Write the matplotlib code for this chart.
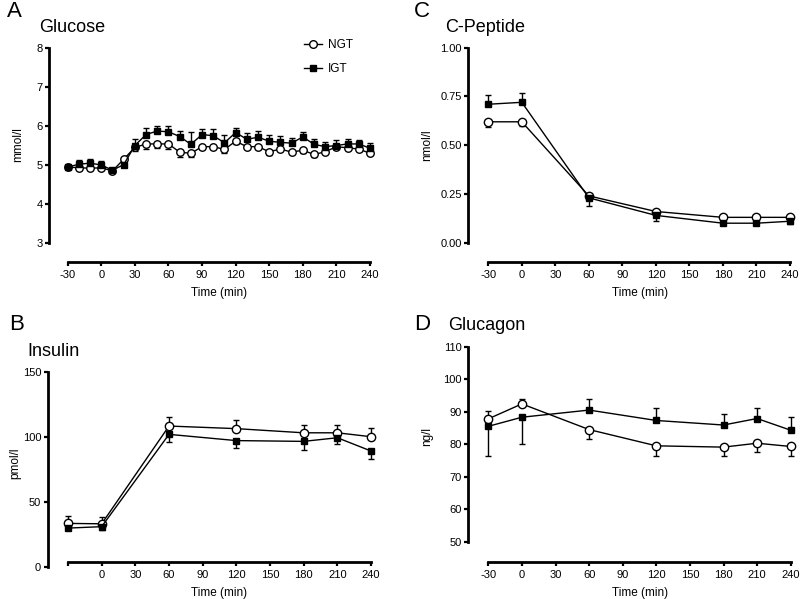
import matplotlib
matplotlib.use("Agg")
import matplotlib.pyplot as plt
from matplotlib.lines import Line2D

plt.rcParams['font.family'] = ['Liberation Sans', 'DejaVu Sans']

# ---------------- data ----------------
glu_t = [-30, -20, -10, 0, 10, 20, 30, 40, 50, 60, 70, 80, 90, 100, 110, 120,
         130, 140, 150, 160, 170, 180, 190, 200, 210, 220, 230, 240]
glu_ngt = [4.95, 4.93, 4.92, 4.93, 4.85, 5.15, 5.45, 5.54, 5.54, 5.54, 5.33, 5.30,
           5.47, 5.47, 5.40, 5.61, 5.47, 5.47, 5.34, 5.41, 5.33, 5.38, 5.27, 5.34,
           5.47, 5.44, 5.41, 5.30]
glu_ngt_lo = [0.03, 0.05, 0.05, 0.05, 0.03, 0.05, 0.09, 0.12, 0.10, 0.12, 0.13, 0.10,
              0.06, 0.06, 0.10, 0.06, 0.06, 0.06, 0.09, 0.06, 0.06, 0.06, 0.07, 0.06,
              0.06, 0.05, 0.05, 0.05]
glu_igt = [4.95, 5.02, 5.05, 5.00, 4.87, 5.01, 5.50, 5.78, 5.87, 5.85, 5.73, 5.53,
           5.78, 5.75, 5.57, 5.83, 5.66, 5.71, 5.61, 5.58, 5.56, 5.72, 5.53, 5.47,
           5.50, 5.54, 5.54, 5.43]
glu_igt_hi = [0.03, 0.11, 0.10, 0.10, 0.03, 0.05, 0.16, 0.18, 0.14, 0.15, 0.15, 0.32,
              0.14, 0.17, 0.20, 0.13, 0.17, 0.16, 0.15, 0.17, 0.14, 0.12, 0.13, 0.13,
              0.13, 0.12, 0.10, 0.14]

t7 = [-30, 0, 60, 120, 180, 210, 240]

cpep_ngt = [0.62, 0.62, 0.24, 0.16, 0.13, 0.13, 0.13]
cpep_ngt_lo = [0.025, 0.02, 0.05, 0.05, 0.04, 0.035, 0.035]
cpep_igt = [0.71, 0.72, 0.23, 0.14, 0.10, 0.10, 0.11]
cpep_igt_hi = [0.05, 0.05, 0.01, 0.01, 0.01, 0.01, 0.01]

ins_ngt = [33.3, 33.0, 108.2, 106.2, 103.0, 103.0, 100.0]
ins_ngt_hi = [6.0, 5.0, 7.0, 6.7, 6.0, 6.0, 6.4]
ins_igt = [29.7, 30.8, 101.8, 97.0, 96.4, 99.2, 89.0]
ins_igt_lo = [1.5, 2.5, 5.6, 5.4, 6.7, 5.0, 6.0]

gcg_ngt = [87.8, 92.4, 84.5, 79.5, 79.1, 80.3, 79.3]
gcg_ngt_lo = [0, 0, 2.9, 3.0, 2.8, 2.7, 2.8]
gcg_ngt_hi = [2.4, 1.4, 0, 0, 0, 0, 0]
gcg_igt = [85.5, 88.3, 90.5, 87.3, 85.9, 87.9, 84.3]
gcg_igt_lo = [9.2, 8.2, 0, 0, 0, 0, 0]
gcg_igt_hi = [0, 0, 3.3, 3.9, 3.4, 3.3, 4.2]

xticks = [-30, 0, 30, 60, 90, 120, 150, 180, 210, 240]
xticklabels_full = ['-30', '0', '30', '60', '90', '120', '150', '180', '210', '240']
xticklabels_b = ['', '0', '30', '60', '90', '120', '150', '180', '210', '240']

# ---------------- figure ----------------
W, H = 800, 599
fig = plt.figure(figsize=(W / 100, H / 100), dpi=100)
PT = 72 / 100.0


def make_ax(x0, x1, ytop, ybot, spine_x, spine_y, ylim, yticks, yticklabels, xlabels):
    ax = fig.add_axes([x0 / W, 1 - ybot / H, (x1 - x0) / W, (ybot - ytop) / H])
    ax.set_xlim(-30, 240)
    ax.set_ylim(*ylim)
    for s in ['top', 'right']:
        ax.spines[s].set_visible(False)
    ax.spines['left'].set_position(('outward', (x0 - spine_x) * PT))
    ax.spines['bottom'].set_position(('outward', (spine_y - ybot) * PT))
    for s in ['left', 'bottom']:
        ax.spines[s].set_linewidth(2.0)
    ax.set_xticks(xticks)
    ax.set_xticklabels(xlabels)
    ax.set_yticks(yticks)
    ax.set_yticklabels(yticklabels)
    ax.tick_params(direction='out', length=3.2, width=1.6, labelsize=8, pad=1.5,
                   colors='black')
    ax.tick_params(axis='x', pad=2.5)
    ax.patch.set_visible(False)
    return ax


def plot_series(ax, t, y, lo, hi, marker, mfc, ms, zorder):
    ax.errorbar(t, y, yerr=[lo, hi], fmt='-', color='black', lw=1.0,
                marker=marker, mfc=mfc, mec='black', mew=1.0, ms=ms,
                ecolor='black', elinewidth=1.0, capsize=2.2, capthick=1.0,
                clip_on=False, zorder=zorder)


zeros28 = [0] * len(glu_t)
zeros7 = [0] * len(t7)

# Panel A - Glucose
axA = make_ax(67.7, 370, 47.7, 243.3, 49, 262, (3, 8), [3, 4, 5, 6, 7, 8],
              ['3', '4', '5', '6', '7', '8'], xticklabels_full)
plot_series(axA, glu_t, glu_ngt, glu_ngt_lo, zeros28, 'o', 'white', 5.4, 3)
plot_series(axA, glu_t, glu_igt, zeros28, glu_igt_hi, 's', 'black', 3.7, 4)

# Panel C - C-Peptide
axC = make_ax(488.3, 790, 47.7, 242.7, 468.3, 262.3, (0, 1.0),
              [0, 0.25, 0.5, 0.75, 1.0], ['0.00', '0.25', '0.50', '0.75', '1.00'],
              xticklabels_full)
plot_series(axC, t7, cpep_ngt, cpep_ngt_lo, zeros7, 'o', 'white', 6.0, 3)
plot_series(axC, t7, cpep_igt, zeros7, cpep_igt_hi, 's', 'black', 4.0, 4)

# Panel B - Insulin
axB = make_ax(68, 371, 371.7, 566.7, 47.7, 561.7, (0, 150), [0, 50, 100, 150],
              ['0', '50', '100', '150'], xticklabels_b)
plot_series(axB, t7, ins_ngt, zeros7, ins_ngt_hi, 'o', 'white', 6.0, 3)
plot_series(axB, t7, ins_igt, ins_igt_lo, zeros7, 's', 'black', 4.0, 4)

# Panel D - Glucagon
axD = make_ax(488.3, 790.7, 346.7, 541.7, 468.3, 561.7, (50, 110),
              [50, 60, 70, 80, 90, 100, 110],
              ['50', '60', '70', '80', '90', '100', '110'], xticklabels_full)
plot_series(axD, t7, gcg_ngt, gcg_ngt_lo, gcg_ngt_hi, 'o', 'white', 6.0, 3)
plot_series(axD, t7, gcg_igt, gcg_igt_lo, gcg_igt_hi, 's', 'black', 4.0, 4)

# ---------------- texts ----------------
def ftext(x, y, s, **kw):
    fig.text(x / W, 1 - y / H, s, **kw)


ftext(7, 17, 'A', fontsize=16, va='baseline', ha='left')
ftext(39.5, 32.3, 'Glucose', fontsize=13, va='baseline', ha='left')
ftext(414, 17, 'C', fontsize=16, va='baseline', ha='left')
ftext(445, 31.7, 'C-Peptide', fontsize=13, va='baseline', ha='left')
ftext(9, 329.5, 'B', fontsize=16, va='baseline', ha='left')
ftext(27, 356.5, 'Insulin', fontsize=13, va='baseline', ha='left')
ftext(414, 330, 'D', fontsize=16, va='baseline', ha='left')
ftext(448, 330.5, 'Glucagon', fontsize=13, va='baseline', ha='left')

lab_kw = dict(fontsize=8.5, ha='center', va='center')
ftext(219, 293, 'Time (min)', **lab_kw)
ftext(640, 293, 'Time (min)', **lab_kw)
ftext(219, 593, 'Time (min)', **lab_kw)
ftext(640, 593, 'Time (min)', **lab_kw)
ftext(18, 145, 'mmol/l', rotation=90, **lab_kw)
ftext(427, 145, 'nmol/l', rotation=90, **lab_kw)
ftext(15, 463, 'pmol/l', rotation=90, **lab_kw)
ftext(427, 437, 'ng/l', rotation=90, **lab_kw)

# legend
handles = [Line2D([], [], color='black', lw=1.0, marker='o', mfc='white',
                  mec='black', ms=5.5),
           Line2D([], [], color='black', lw=1.0, marker='s', mfc='black',
                  mec='black', ms=3.8)]
fig.legend(handles, ['NGT', 'IGT'], loc='upper left',
           bbox_to_anchor=(304 / W, 1 - 39 / H), frameon=False, fontsize=8.5,
           handlelength=1.5, handletextpad=0.55, labelspacing=1.0,
           borderpad=0, borderaxespad=0)

fig.savefig('out.png', dpi=100)
